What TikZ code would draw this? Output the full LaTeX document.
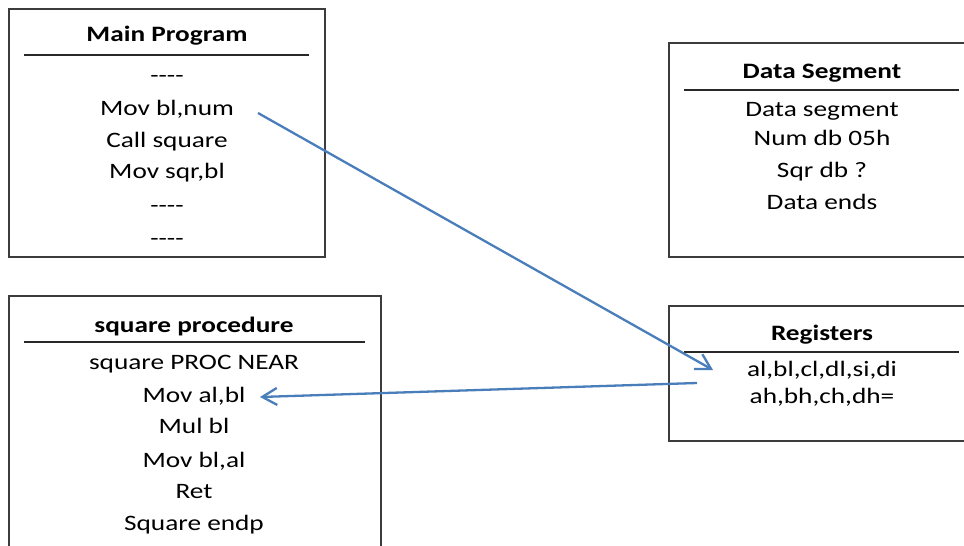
\documentclass[tikz,border=0pt]{standalone}
\usepackage{fontspec}
\setmainfont{Carlito}[FakeStretch=1.24]
\usetikzlibrary{arrows.meta}
\definecolor{frameGray}{RGB}{60,60,60}
\definecolor{ruleGray}{RGB}{40,40,40}
\definecolor{linkBlue}{RGB}{74,126,187}
% a row of four plain hyphens (kerns keep them from merging into dashes)
\newcommand{\hyphenrow}{-\kern0pt-\kern0pt-\kern0pt-}
\tikzset{
  panel/.style={draw=frameGray, line width=1.3pt},
  titlerule/.style={draw=ruleGray, line width=1.8pt},
  codeline/.style={anchor=base, inner sep=0pt, font=\fontsize{22}{26}\selectfont},
  heading/.style={codeline, font=\fontsize{22}{26}\selectfont\bfseries},
  link/.style={draw=linkBlue, line width=2.3pt, -{Straight Barb[angle=60:17pt, line width=2.3pt]}}
}
\begin{document}
\begin{tikzpicture}[x=1pt, y=-1pt]
\useasboundingbox (0,0) rectangle (964,546);
\clip (0,0) rectangle (964,546);
\fill[white] (0,0) rectangle (964,546);

% Main program panel
\draw[panel] (9,9) rectangle (325,257);
\node[heading] (mpT) at (167,41) {Main Program};
\draw[titlerule] (24,55) -- (309,55);
\node[codeline] (mp1) at (167,82) {\hyphenrow};
\node[codeline] (mp2) at (167,115) {Mov bl,num};
\node[codeline] (mp3) at (167,147) {Call square};
\node[codeline] (mp4) at (167,178) {Mov sqr,bl};
\node[codeline] (mp5) at (167,212) {\hyphenrow};
\node[codeline] (mp6) at (167,245) {\hyphenrow};

% Data segment panel
\draw[panel] (669,43) rectangle (990,257);
\node[heading] (dsT) at (822,78) {Data Segment};
\draw[titlerule] (684,90) -- (959,90);
\node[codeline] (ds1) at (822,116) {Data segment};
\node[codeline] (ds2) at (822,145) {Num db 05h};
\node[codeline] (ds3) at (822,177) {Sqr db ?};
\node[codeline] (ds4) at (822,209) {Data ends};

% Procedure panel
\draw[panel] (9,296) rectangle (381,570);
\node[heading] (spT) at (194,332) {square procedure};
\draw[titlerule] (24,342) -- (365,342);
\node[codeline] (sp1) at (194,369) {square PROC NEAR};
\node[codeline] (sp2) at (194,402) {Mov al,bl};
\node[codeline] (sp3) at (194,433) {Mul bl};
\node[codeline] (sp4) at (194,467) {Mov bl,al};
\node[codeline] (sp5) at (194,498) {Ret};
\node[codeline] (sp6) at (194,530) {Square endp};

% Registers panel
\draw[panel] (669,306) rectangle (990,441);
\node[heading] (rgT) at (822,340) {Registers};
\draw[titlerule] (684,352) -- (959,352);
\node[codeline] (rg1) at (822,376) {al,bl,cl,dl,si,di};
\node[codeline] (rg2) at (822,403) {ah,bh,ch,dh=};

% Data flow between the panels
\coordinate (numOut) at (258,113);
\coordinate (regIn) at (713,370);
\coordinate (regOut) at (697,383);
\coordinate (procIn) at (260,397);
\draw[link] (numOut) -- (regIn);
\draw[link] (regOut) -- (procIn);
\end{tikzpicture}
\end{document}
